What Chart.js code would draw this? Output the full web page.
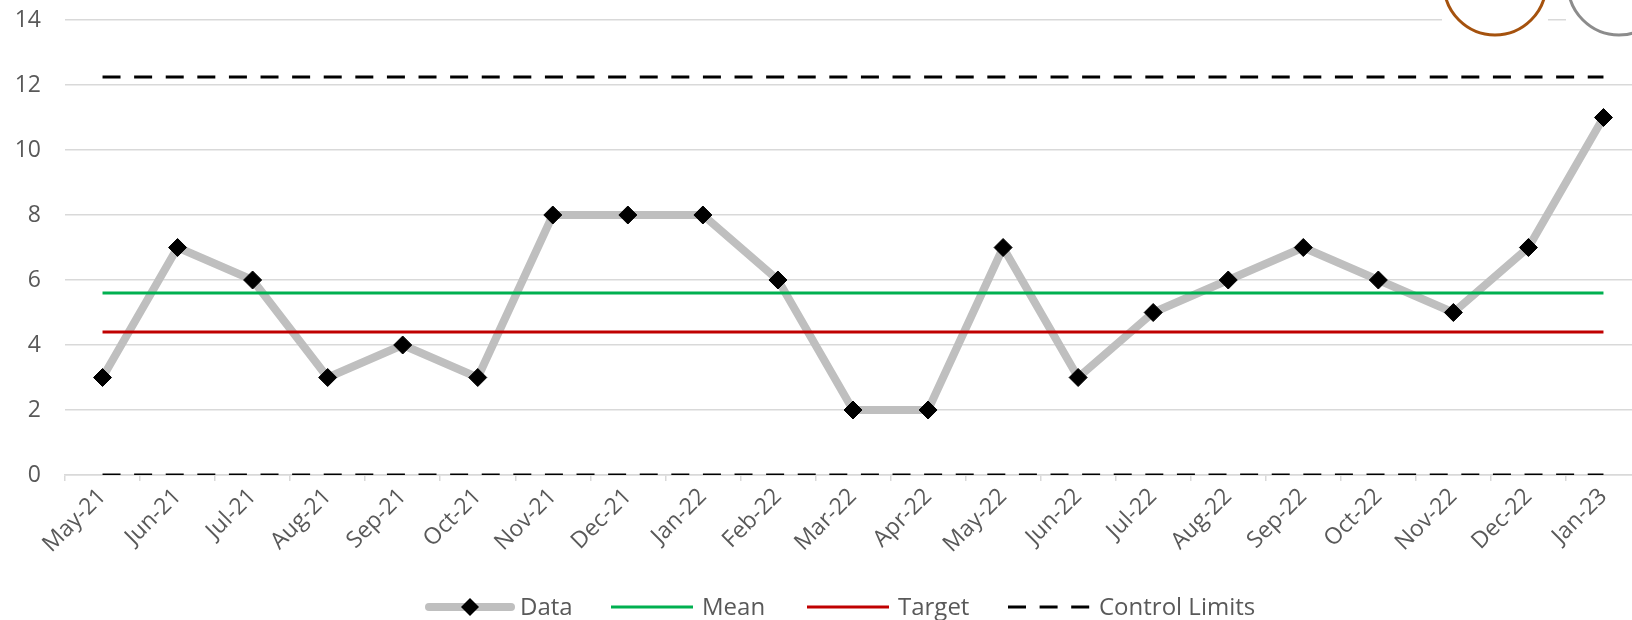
<!DOCTYPE html>
<html>
<head>
<meta charset="utf-8">
<script src="https://cdn.jsdelivr.net/npm/chart.js@4.4.1/dist/chart.umd.min.js"></script>
<style>
  html, body { margin: 0; padding: 0; background: #ffffff; overflow: hidden; }
  #wrap { position: relative; width: 1651px; height: 620px; }
</style>
</head>
<body>
<div id="wrap"><canvas id="chart"></canvas></div>
<script>
// Monthly counts with the process mean, target and control limits
const months = ['May-21','Jun-21','Jul-21','Aug-21','Sep-21','Oct-21','Nov-21','Dec-21','Jan-22','Feb-22','Mar-22','Apr-22','May-22','Jun-22','Jul-22','Aug-22','Sep-22','Oct-22','Nov-22','Dec-22','Jan-23'];
const dataValues = [3, 7, 6, 3, 4, 3, 8, 8, 8, 6, 2, 2, 7, 3, 5, 6, 7, 6, 5, 7, 11];
const meanValue = 5.6;
const targetValue = 4.4;
const upperLimit = 12.25;
const lowerLimit = 0;
const yTicks = [0, 2, 4, 6, 8, 10, 12, 14];
const legendLabels = ['Data', 'Mean', 'Target', 'Control Limits'];

const flat = v => months.map(() => v);
const FONT = "'Open Sans', 'DejaVu Sans', sans-serif";
const TEXT = '#595959';
const GRID = '#d9d9d9';
const DASH = [18, 13.6];

// Legend drawn under the axis labels: a line sample followed by its label
const legendPlugin = {
  id: 'bottomLegend',
  afterDraw(chart) {
    const ctx = chart.ctx;
    const y = 607;
    const starts = [429, 611, 807, 1008];
    const len = 82;
    const ds = chart.data.datasets;
    ctx.save();
    ctx.font = '24px ' + FONT;
    ctx.textBaseline = 'middle';
    ctx.fillStyle = TEXT;
    legendLabels.forEach((label, i) => {
      const d = ds[i];
      const x0 = starts[i];
      ctx.save();
      ctx.strokeStyle = d.borderColor;
      ctx.lineWidth = d.borderWidth;
      ctx.lineCap = i === 0 ? 'round' : 'butt';
      ctx.setLineDash(d.borderDash || []);
      ctx.beginPath();
      ctx.moveTo(x0, y);
      ctx.lineTo(x0 + len, y);
      ctx.stroke();
      if (i === 0) {
        const r = 9, cx = x0 + len / 2;
        ctx.setLineDash([]);
        ctx.fillStyle = '#000000';
        ctx.beginPath();
        ctx.moveTo(cx - r, y); ctx.lineTo(cx, y - r); ctx.lineTo(cx + r, y); ctx.lineTo(cx, y + r);
        ctx.closePath();
        ctx.fill();
      }
      ctx.restore();
      ctx.fillText(label, x0 + len + 9, y + 1);
    });
    ctx.restore();
  }
};

// Two outlined ovals sitting over the top-right corner of the plot
const ovalsPlugin = {
  id: 'ovals',
  afterDraw(chart) {
    const ctx = chart.ctx;
    const shapes = [
      { cx: 1495, cy: -16, r: 51, color: '#a5520e' },
      { cx: 1619, cy: -16, r: 51, color: '#8c8c8c' }
    ];
    ctx.save();
    shapes.forEach(s => {
      ctx.fillStyle = '#ffffff';
      ctx.fillRect(s.cx - 53, 0, 106, s.cy + s.r + 2);
      ctx.strokeStyle = s.color;
      ctx.lineWidth = 3;
      ctx.beginPath();
      ctx.arc(s.cx, s.cy, s.r, 0, Math.PI * 2);
      ctx.stroke();
    });
    ctx.restore();
  }
};

const lineSet = (label, values, color, extra) => Object.assign({
  label, data: values, borderColor: color, backgroundColor: color,
  borderWidth: 3, pointRadius: 0, pointHoverRadius: 0, fill: false, tension: 0, order: 1
}, extra || {});

const noPad = scale => {
  scale.paddingTop = 0; scale.paddingBottom = 0;
  scale.paddingLeft = 0; scale.paddingRight = 0;
};

new Chart(document.getElementById('chart'), {
  type: 'line',
  data: {
    labels: months,
    datasets: [
      {
        label: 'Data', data: dataValues,
        borderColor: '#bfbfbf', borderWidth: 8, borderJoinStyle: 'round', borderCapStyle: 'round',
        pointStyle: 'rectRot', pointRadius: 9, pointBorderWidth: 1,
        pointBackgroundColor: '#000000', pointBorderColor: '#000000',
        fill: false, tension: 0, order: 5
      },
      lineSet('Mean', flat(meanValue), '#00b050'),
      lineSet('Target', flat(targetValue), '#c00000'),
      lineSet('Control Limits', flat(upperLimit), '#000000', { borderDash: DASH }),
      lineSet('Lower Limit', flat(lowerLimit), '#000000', { borderDash: DASH })
    ]
  },
  options: {
    responsive: true,
    maintainAspectRatio: false,
    animation: false,
    layout: { padding: { top: 20, left: 0, right: 0, bottom: 0 } },
    plugins: { legend: { display: false }, tooltip: { enabled: false } },
    scales: {
      x: {
        offset: true,
        grid: { display: true, drawOnChartArea: false, offset: true, color: GRID, tickLength: 6, lineWidth: 1.5 },
        border: { display: true, color: GRID, width: 1.5 },
        ticks: { color: TEXT, font: { family: FONT, size: 23 }, minRotation: 45, maxRotation: 45, padding: 2, autoSkip: false },
        afterFit(scale) { scale.height = 145; noPad(scale); }
      },
      y: {
        min: 0, max: 14,
        afterBuildTicks(scale) { scale.ticks = yTicks.map(v => ({ value: v })); },
        grid: { color: GRID, lineWidth: 1.5, drawTicks: false },
        border: { display: false },
        ticks: { color: TEXT, font: { family: FONT, size: 23 }, padding: 24 },
        afterFit(scale) { scale.width = 65; noPad(scale); }
      }
    }
  },
  plugins: [legendPlugin, ovalsPlugin]
});
</script>
</body>
</html>
